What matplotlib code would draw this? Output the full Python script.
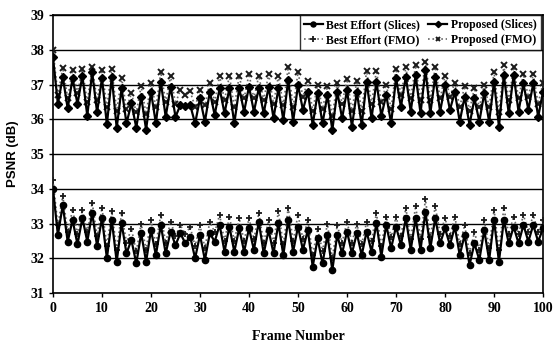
import matplotlib
matplotlib.use('Agg')
import matplotlib.pyplot as plt
import numpy as np

# frame numbers 0..100
frames = list(range(101))

# PSNR values (dB)
best_slices = [34.00, 32.67, 33.53, 32.48, 33.10, 32.40, 33.16, 32.48, 33.30, 32.35,
               33.15, 32.00, 33.10, 31.90, 33.01, 32.14, 32.53, 31.85, 32.72, 31.90,
               32.81, 32.09, 32.96, 32.14, 32.77, 32.38, 32.72, 32.43, 32.62, 32.00,
               32.67, 31.95, 32.72, 32.48, 32.96, 32.19, 32.91, 32.19, 32.86, 32.19,
               32.86, 32.24, 33.05, 32.14, 32.81, 32.14, 33.01, 32.09, 33.10, 32.19,
               32.91, 32.24, 32.81, 31.76, 32.57, 31.85, 32.67, 31.66, 32.67, 32.14,
               32.77, 32.14, 32.72, 32.09, 32.77, 32.19, 33.01, 32.05, 32.96, 32.29,
               32.91, 32.38, 33.15, 32.24, 33.15, 32.24, 33.34, 32.29, 33.15, 32.43,
               32.86, 32.38, 32.91, 32.09, 32.67, 31.81, 32.43, 31.95, 32.81, 31.95,
               33.10, 31.90, 33.10, 32.43, 32.91, 32.43, 32.96, 32.48, 32.96, 32.48,
               32.86]

prop_slices = [37.78, 36.44, 37.22, 36.31, 37.18, 36.44, 37.25, 36.10, 37.35, 36.20,
               37.18, 35.85, 37.22, 35.75, 36.89, 35.88, 36.46, 35.76, 36.65, 35.70,
               36.79, 35.88, 37.08, 36.07, 36.94, 36.07, 36.41, 36.39, 36.41, 35.88,
               36.60, 35.93, 36.79, 36.12, 36.89, 36.17, 36.89, 35.88, 36.89, 36.22,
               36.94, 36.22, 36.89, 36.17, 36.94, 36.03, 36.89, 35.98, 37.13, 35.93,
               36.99, 36.27, 36.79, 35.84, 36.75, 35.88, 36.70, 35.69, 36.79, 36.03,
               36.84, 35.79, 36.79, 35.84, 37.08, 36.03, 37.08, 36.10, 36.70, 35.88,
               37.18, 36.36, 37.23, 36.22, 37.27, 36.17, 37.42, 36.17, 37.23, 36.22,
               36.99, 36.27, 36.79, 35.93, 36.65, 35.84, 36.60, 35.93, 36.75, 35.93,
               37.08, 35.79, 37.27, 36.17, 37.27, 36.22, 37.03, 36.27, 37.03, 36.07,
               36.79]

best_fmo = [34.25, 32.95, 33.80, 32.75, 33.40, 32.70, 33.40, 32.75, 33.60, 32.65,
            33.45, 32.35, 33.35, 32.25, 33.30, 32.45, 32.85, 32.20, 33.00, 32.25,
            33.10, 32.40, 33.25, 32.45, 33.05, 32.65, 32.95, 32.70, 32.90, 32.35,
            32.95, 32.30, 33.05, 32.75, 33.25, 32.50, 33.20, 32.50, 33.15, 32.50,
            33.15, 32.55, 33.30, 32.45, 33.10, 32.45, 33.35, 32.40, 33.45, 32.50,
            33.25, 32.55, 33.10, 32.10, 32.85, 32.20, 33.00, 32.00, 32.95, 32.45,
            33.05, 32.45, 33.00, 32.40, 33.05, 32.50, 33.30, 32.35, 33.20, 32.60,
            33.20, 32.65, 33.45, 32.55, 33.50, 32.55, 33.70, 32.60, 33.50, 32.70,
            33.15, 32.65, 33.20, 32.40, 32.95, 32.15, 32.75, 32.25, 33.10, 32.30,
            33.40, 32.25, 33.45, 32.70, 33.20, 32.70, 33.25, 32.75, 33.25, 32.75,
            33.10]

prop_fmo = [38.00, 36.70, 37.48, 36.62, 37.42, 36.75, 37.45, 36.50, 37.50, 36.55,
            37.42, 36.35, 37.45, 36.25, 37.20, 36.30, 36.75, 36.20, 36.95, 36.15,
            37.05, 36.35, 37.35, 36.50, 37.25, 36.45, 36.85, 36.70, 36.80, 36.35,
            36.85, 36.40, 37.05, 36.50, 37.25, 36.55, 37.25, 36.35, 37.25, 36.60,
            37.30, 36.60, 37.25, 36.55, 37.30, 36.45, 37.25, 36.40, 37.50, 36.35,
            37.35, 36.65, 37.10, 36.25, 37.00, 36.30, 36.95, 36.10, 37.05, 36.45,
            37.15, 36.25, 37.10, 36.25, 37.40, 36.45, 37.40, 36.50, 37.00, 36.30,
            37.45, 36.70, 37.50, 36.60, 37.55, 36.55, 37.65, 36.55, 37.50, 36.60,
            37.25, 36.65, 37.05, 36.35, 36.95, 36.25, 36.90, 36.35, 37.00, 36.35,
            37.35, 36.20, 37.55, 36.55, 37.50, 36.60, 37.30, 36.65, 37.30, 36.45,
            37.05]

serif = 'Liberation Serif'

fig = plt.figure(figsize=(5.53, 3.45), dpi=100)
ax = fig.add_axes([0.0958, 0.1507, 0.8862, 0.8058])

# dotted FMO curves first, solid slice curves on top
ax.plot(frames, best_fmo, linestyle=':', color='#666666', linewidth=1.2,
        marker='+', markersize=5, markeredgewidth=1.3, markeredgecolor='#1a1a1a',
        label='Best Effort (FMO)', zorder=3)
ax.plot(frames, prop_fmo, linestyle=':', color='#666666', linewidth=1.2,
        marker='x', markersize=4, markeredgewidth=1.4, markeredgecolor='#1a1a1a',
        label='Proposed (FMO)', zorder=3)
ax.plot(frames, best_slices, linestyle='-', color='black', linewidth=1.6,
        marker='o', markersize=4.5, label='Best Effort (Slices)', zorder=4)
ax.plot(frames, prop_slices, linestyle='-', color='black', linewidth=1.6,
        marker='D', markersize=4, label='Proposed (Slices)', zorder=4)

ax.set_xlim(0, 100)
ax.set_ylim(31, 39)
ax.set_xticks(np.arange(0, 101, 10))
ax.set_yticks(np.arange(31, 40, 1))
ax.yaxis.grid(True, color='black', linewidth=1.0)
ax.set_axisbelow(True)
for s in ax.spines.values():
    s.set_color('black')
    s.set_linewidth(1.2)
ax.tick_params(axis='both', direction='out', length=3, width=1, labelsize=10)
for lab in ax.get_xticklabels() + ax.get_yticklabels():
    lab.set_fontfamily(serif)
    lab.set_fontweight('bold')

ax.set_xlabel('Frame Number', fontfamily=serif, fontweight='bold', fontsize=10, labelpad=11)
ax.set_ylabel('PSNR (dB)', fontfamily='Liberation Sans', fontweight='bold', fontsize=9.5, labelpad=8)

handles, labels = ax.get_legend_handles_labels()
order = [2, 0, 3, 1]
leg = ax.legend([handles[i] for i in order], [labels[i] for i in order],
                ncol=2, loc='upper right', bbox_to_anchor=(0.995, 1.0),
                borderaxespad=0, frameon=True, fancybox=False,
                prop={'family': serif, 'weight': 'bold', 'size': 8.5},
                handlelength=1.6, handletextpad=0.3, columnspacing=0.7,
                labelspacing=0.25, borderpad=0.35, markerscale=0.8)
leg.get_frame().set_edgecolor('black')
leg.get_frame().set_linewidth(1.0)
leg.set_zorder(10)

fig.savefig('out.png', dpi=100, facecolor='white')
